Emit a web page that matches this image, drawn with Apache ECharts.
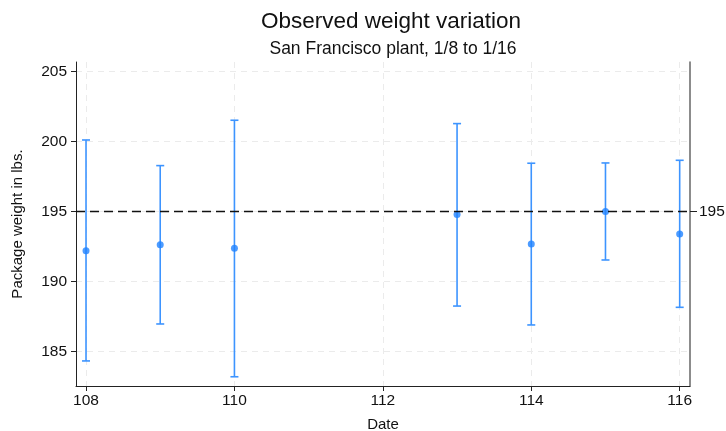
<!DOCTYPE html>
<html>
<head>
<meta charset="utf-8">
<script src="https://cdn.jsdelivr.net/npm/echarts@6/dist/echarts.min.js"></script>
<style>html,body{margin:0;padding:0;background:#fff}#c{width:726px;height:431px}</style>
</head>
<body>
<div id="c"></div>
<script>
const dates = [108, 109, 110, 113, 114, 115, 116];
const means = [192.21, 192.64, 192.39, 194.79, 192.69, 195.02, 193.41];
const upper = [200.12, 198.29, 201.53, 201.29, 198.46, 198.48, 198.67];
const lower = [184.34, 186.98, 183.21, 188.26, 186.91, 191.55, 188.17];
const xTicks = [108, 110, 112, 114, 116];
const yTicks = [185, 190, 195, 200, 205];
const refValue = 195;

const FONT = '"Liberation Sans", Arial, sans-serif';
const chart = echarts.init(document.getElementById('c'));
const barData = dates.map((d, i) => [d, lower[i], upper[i]]);
const ptData = dates.map((d, i) => [d, means[i]]);

chart.setOption({
  animation: false,
  backgroundColor: '#fff',
  title: [
    { text: 'Observed weight variation', left: 386, top: 5, textAlign: 'center',
      textStyle: { fontFamily: FONT, fontSize: 22.5, fontWeight: 'normal', color: '#111' } },
    { text: 'San Francisco plant, 1/8 to 1/16', left: 388, top: 35, textAlign: 'center',
      textStyle: { fontFamily: FONT, fontSize: 17.5, fontWeight: 'normal', color: '#111' } }
  ],
  grid: { left: 76, right: 36, top: 62, bottom: 45, containLabel: false, outerBoundsMode: 'none' },
  xAxis: {
    type: 'value', min: 107.865, max: 116.139,
    name: 'Date', nameLocation: 'middle', nameGap: 31,
    nameTextStyle: { fontFamily: FONT, fontSize: 15, color: '#111' },
    axisLine: { show: true, onZero: false, lineStyle: { color: '#222', width: 1 } },
    axisTick: { show: true, length: 5, customValues: xTicks, lineStyle: { color: '#222' } },
    axisLabel: { customValues: xTicks, fontFamily: FONT, fontSize: 15.5, color: '#111', margin: 7 },
    splitLine: { show: true, lineStyle: { color: '#ebebeb', type: [6, 5], width: 1 } }
  },
  yAxis: [
    {
      type: 'value', min: 182.55, max: 205.69,
      name: 'Package weight in lbs.', nameLocation: 'middle', nameGap: 51,
      nameTextStyle: { fontFamily: FONT, fontSize: 15, color: '#111' },
      axisLine: { show: true, onZero: false, lineStyle: { color: '#222', width: 1 } },
      axisTick: { show: true, length: 5, customValues: yTicks, lineStyle: { color: '#222' } },
      axisLabel: { customValues: yTicks, fontFamily: FONT, fontSize: 15.5, color: '#111', margin: 9 },
      splitLine: { show: true, lineStyle: { color: '#ebebeb', type: [6, 5], width: 1 } }
    },
    {
      type: 'value', min: 182.55, max: 205.69, position: 'right',
      axisLine: { show: true, onZero: false, lineStyle: { color: '#666', width: 1.5 } },
      axisTick: { show: true, length: 7, inside: false, customValues: [refValue], lineStyle: { color: '#222' } },
      axisLabel: { customValues: [refValue], fontFamily: FONT, fontSize: 15.5, color: '#111', margin: 9 },
      splitLine: { show: false }
    }
  ],
  series: [
    {
      type: 'custom',
      data: barData,
      z: 3,
      renderItem: function (params, api) {
        const x = api.value(0);
        const lo = api.coord([x, api.value(1)]);
        const hi = api.coord([x, api.value(2)]);
        const w = 4;
        const style = { stroke: '#3d94ff', lineWidth: 1.6, fill: null };
        return {
          type: 'group',
          children: [
            { type: 'line', shape: { x1: lo[0], y1: lo[1], x2: hi[0], y2: hi[1] }, style: style },
            { type: 'line', shape: { x1: lo[0] - w, y1: lo[1], x2: lo[0] + w, y2: lo[1] }, style: style },
            { type: 'line', shape: { x1: hi[0] - w, y1: hi[1], x2: hi[0] + w, y2: hi[1] }, style: style }
          ]
        };
      }
    },
    {
      type: 'scatter',
      data: ptData,
      symbol: 'circle',
      symbolSize: 7,
      z: 4,
      itemStyle: { color: '#1f82ff' },
      markLine: {
        silent: true,
        symbol: ['none', 'none'],
        label: { show: false },
        lineStyle: { color: '#111', type: [9, 5], width: 1.4 },
        data: [{ yAxis: refValue }]
      }
    }
  ]
});
</script>
</body>
</html>
